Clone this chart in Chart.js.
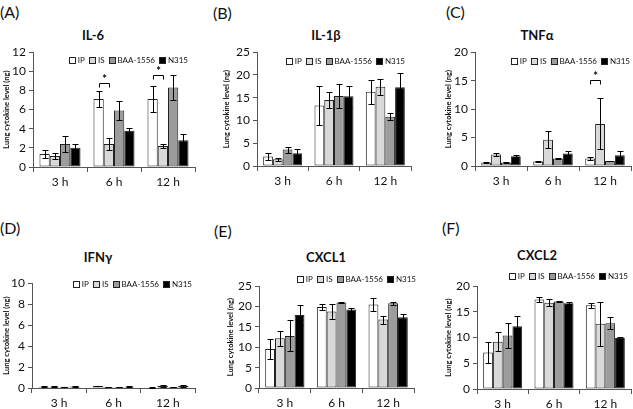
<!DOCTYPE html>
<html>
<head>
<meta charset="utf-8">
<script src="https://cdn.jsdelivr.net/npm/chart.js@4.4.0/dist/chart.umd.min.js"></script>
<style>
  body { margin: 0; background: #fff; width: 633px; height: 409px; position: relative; overflow: hidden; font-family: Lato, sans-serif; }
  canvas { position: absolute; }
  .letter { position: absolute; font-size: 16px; color: #111; line-height: 20px; }
  .ttl { position: absolute; font-weight: bold; font-size: 13px; color: #111; transform: translate(-50%, -50%); white-space: nowrap; }
  .lg { position: absolute; display: flex; align-items: center; font-size: 8px; color: #111; line-height: 10px; white-space: nowrap; transform: translateY(-50%); }
  .lg .it { display: flex; align-items: center; margin-right: 4px; }
  .lg .it:last-child { margin-right: 0; }
  .lg .bx { width: 5px; height: 5px; border: 1px solid #222; margin-right: 2px; }
</style>
</head>
<body>
<div class="letter" style="left:0px;top:2px">(A)</div>
<div class="letter" style="left:213px;top:3px">(B)</div>
<div class="letter" style="left:446px;top:2px">(C)</div>
<div class="letter" style="left:0px;top:218px">(D)</div>
<div class="letter" style="left:214px;top:221px">(E)</div>
<div class="letter" style="left:442px;top:218px">(F)</div>

<div class="ttl" style="left:93px;top:35px">IL-6</div>
<div class="ttl" style="left:326px;top:35px">IL-1β</div>
<div class="ttl" style="left:537px;top:35px">TNFα</div>
<div class="ttl" style="left:98px;top:257px">IFNγ</div>
<div class="ttl" style="left:326px;top:257px">CXCL1</div>
<div class="ttl" style="left:537px;top:255px">CXCL2</div>

<canvas id="cA"></canvas>
<canvas id="cB"></canvas>
<canvas id="cC"></canvas>
<canvas id="cD"></canvas>
<canvas id="cE"></canvas>
<canvas id="cF"></canvas>

<script>
// groups and time points
const groups = ["IP", "IS", "BAA-1556", "N315"];
const timeLabels = ["3 h", "6 h", "12 h"];

// mean values, one row per group (IP, IS, BAA-1556, N315), one column per time
const il6Mean = [[1.35, 7.1, 7.1], [1.15, 2.4, 2.2], [2.4, 5.9, 8.3], [2.0, 3.8, 2.8]];
const il6Err = [[0.4, 0.8, 1.4], [0.3, 0.6, 0.2], [0.8, 1.0, 1.3], [0.4, 0.3, 0.65]];
const il6Sig = [[1, 8.75], [2, 9.6]];

const il1bMean = [[2.1, 13.3, 16.3], [1.5, 14.5, 17.4], [3.6, 15.4, 10.8], [2.8, 15.3, 17.3]];
const il1bErr = [[0.7, 4.2, 2.7], [0.3, 1.8, 1.7], [0.65, 2.6, 0.8], [1.0, 2.3, 3.1]];

const tnfMean = [[0.6, 0.8, 1.3], [2.0, 4.6, 7.4], [0.6, 1.3, 0.9], [1.7, 2.2, 1.9]];
const tnfErr = [[0.05, 0.1, 0.2], [0.2, 1.5, 4.5], [0.05, 0.15, 0.05], [0.2, 0.5, 0.65]];
const tnfSig = [[2, 15.1]];

const ifngMean = [[0.12, 0.18, 0.05], [0.12, 0.1, 0.22], [0.12, 0.1, 0.1], [0.15, 0.12, 0.18]];
const ifngErr = [[0.03, 0.03, 0.03], [0.03, 0.02, 0.08], [0.02, 0.02, 0.02], [0.05, 0.03, 0.1]];

const cxcl1Mean = [[9.6, 19.9, 20.5], [12.2, 18.8, 16.8], [12.8, 21.0, 20.8], [17.9, 19.3, 17.4]];
const cxcl1Err = [[2.4, 0.7, 1.7], [1.9, 1.8, 1.0], [3.8, 0.2, 0.4], [2.4, 0.3, 0.85]];

const cxcl2Mean = [[7.1, 17.4, 16.3], [9.2, 16.8, 12.7], [10.4, 17.0, 12.8], [12.2, 16.7, 9.9]];
const cxcl2Err = [[2.1, 0.45, 0.5], [1.8, 0.7, 4.3], [2.4, 0.1, 1.2], [2.05, 0.2, 0.2]];

const fills = ["#ffffff", "#d9d9d9", "#9c9c9c", "#000000"];

// error bars + significance brackets
const errorBars = {
  id: "errorBars",
  afterDatasetsDraw(chart, args, opts) {
    const ctx = chart.ctx, y = chart.scales.y;
    ctx.save();
    ctx.strokeStyle = "#000";
    ctx.lineWidth = 1;
    chart.data.datasets.forEach((ds, i) => {
      chart.getDatasetMeta(i).data.forEach((bar, j) => {
        const v = ds.data[j], e = ds.err[j];
        const yT = Math.round(y.getPixelForValue(v + e)) + 0.5;
        const yB = Math.round(y.getPixelForValue(Math.max(0, v - e))) + 0.5;
        const x = Math.round(bar.x) + 0.5;
        ctx.beginPath();
        ctx.moveTo(x, yT); ctx.lineTo(x, yB);
        ctx.moveTo(x - 3, yT); ctx.lineTo(x + 3, yT);
        ctx.moveTo(x - 3, yB); ctx.lineTo(x + 3, yB);
        ctx.stroke();
      });
    });
    ctx.fillStyle = "#000";
    ctx.font = "bold 11px Lato";
    ctx.textAlign = "center";
    (opts.sig || []).forEach(([cat, val]) => {
      const a = Math.round(chart.getDatasetMeta(0).data[cat].x) + 0.5;
      const b = Math.round(chart.getDatasetMeta(1).data[cat].x) + 0.5;
      const yy = Math.round(y.getPixelForValue(val)) + 0.5;
      ctx.beginPath();
      ctx.moveTo(a, yy + 4); ctx.lineTo(a, yy); ctx.lineTo(b, yy); ctx.lineTo(b, yy + 4);
      ctx.stroke();
      ctx.fillText("*", (a + b) / 2, yy - 1);
    });
    ctx.restore();
  }
};

// legend row, anchored by its right edge
function legend(xRight, y) {
  const d = document.createElement("div");
  d.className = "lg";
  d.style.right = (633 - xRight) + "px";
  d.style.top = y + "px";
  groups.forEach((g, i) => {
    const it = document.createElement("span");
    it.className = "it";
    const bx = document.createElement("span");
    bx.className = "bx";
    bx.style.background = fills[i];
    it.appendChild(bx);
    it.appendChild(document.createTextNode(g));
    d.appendChild(it);
  });
  document.body.appendChild(d);
}

function panel(id, o) {
  const c = document.getElementById(id);
  const padR = 2, padT = 10;
  const left = o.axL - o.yW;
  const top = o.axT - padT;
  const w = o.axR - left + padR;
  const h = o.axB - top + 24;
  c.width = w; c.height = h;
  c.style.left = left + "px"; c.style.top = top + "px";
  c.style.width = w + "px"; c.style.height = h + "px";

  new Chart(c, {
    type: "bar",
    data: {
      labels: timeLabels,
      datasets: groups.map((g, i) => ({
        label: g,
        data: o.mean[i],
        err: o.err[i],
        backgroundColor: fills[i],
        borderColor: "#222",
        borderWidth: 1,
        borderSkipped: false
      }))
    },
    options: {
      responsive: false,
      animation: false,
      categoryPercentage: 0.76,
      barPercentage: 1.0,
      layout: { padding: { top: padT, right: padR, left: 0, bottom: 0 } },
      scales: {
        x: {
          grid: { drawOnChartArea: false, tickLength: 5, color: "#555", offset: true },
          border: { color: "#555" },
          ticks: { color: "#111", font: { size: 12, family: "Lato" }, padding: 3 },
          afterFit(s) { s.height = 24; }
        },
        y: {
          min: 0,
          max: o.max,
          ticks: { stepSize: o.step, color: "#111", font: { size: 12, family: "Lato" }, padding: 3 },
          grid: { drawOnChartArea: false, tickLength: 4, color: "#555" },
          border: { color: "#555" },
          title: {
            display: true,
            text: "Lung cytokine level (ng)",
            color: "#111",
            font: { size: 7.5, weight: "bold", family: "Lato" },
            padding: { top: 2, bottom: 0 }
          },
          afterFit(s) { s.width = o.yW; }
        }
      },
      plugins: {
        legend: { display: false },
        tooltip: { enabled: false },
        errorBars: { sig: o.sig || [] }
      }
    },
    plugins: [errorBars]
  });
  legend(o.lgR, o.lgY);
}

panel("cA", { axL: 33, axT: 52, axR: 195, axB: 167, yW: 33, max: 12, step: 2, mean: il6Mean, err: il6Err, sig: il6Sig, lgR: 188, lgY: 60 });
panel("cB", { axL: 257, axT: 52, axR: 411, axB: 166, yW: 37, max: 25, step: 5, mean: il1bMean, err: il1bErr, lgR: 405, lgY: 61 });
panel("cC", { axL: 475, axT: 52, axR: 631, axB: 166, yW: 33, max: 20, step: 5, mean: tnfMean, err: tnfErr, sig: tnfSig, lgR: 630, lgY: 61 });
panel("cD", { axL: 32, axT: 283, axR: 195, axB: 388, yW: 32, max: 10, step: 2, mean: ifngMean, err: ifngErr, lgR: 192, lgY: 284 });
panel("cE", { axL: 259, axT: 286, axR: 414, axB: 388, yW: 35, max: 25, step: 5, mean: cxcl1Mean, err: cxcl1Err, lgR: 416, lgY: 279 });
panel("cF", { axL: 477, axT: 286, axR: 631, axB: 389, yW: 35, max: 20, step: 5, mean: cxcl2Mean, err: cxcl2Err, lgR: 628, lgY: 276 });
</script>
</body>
</html>
